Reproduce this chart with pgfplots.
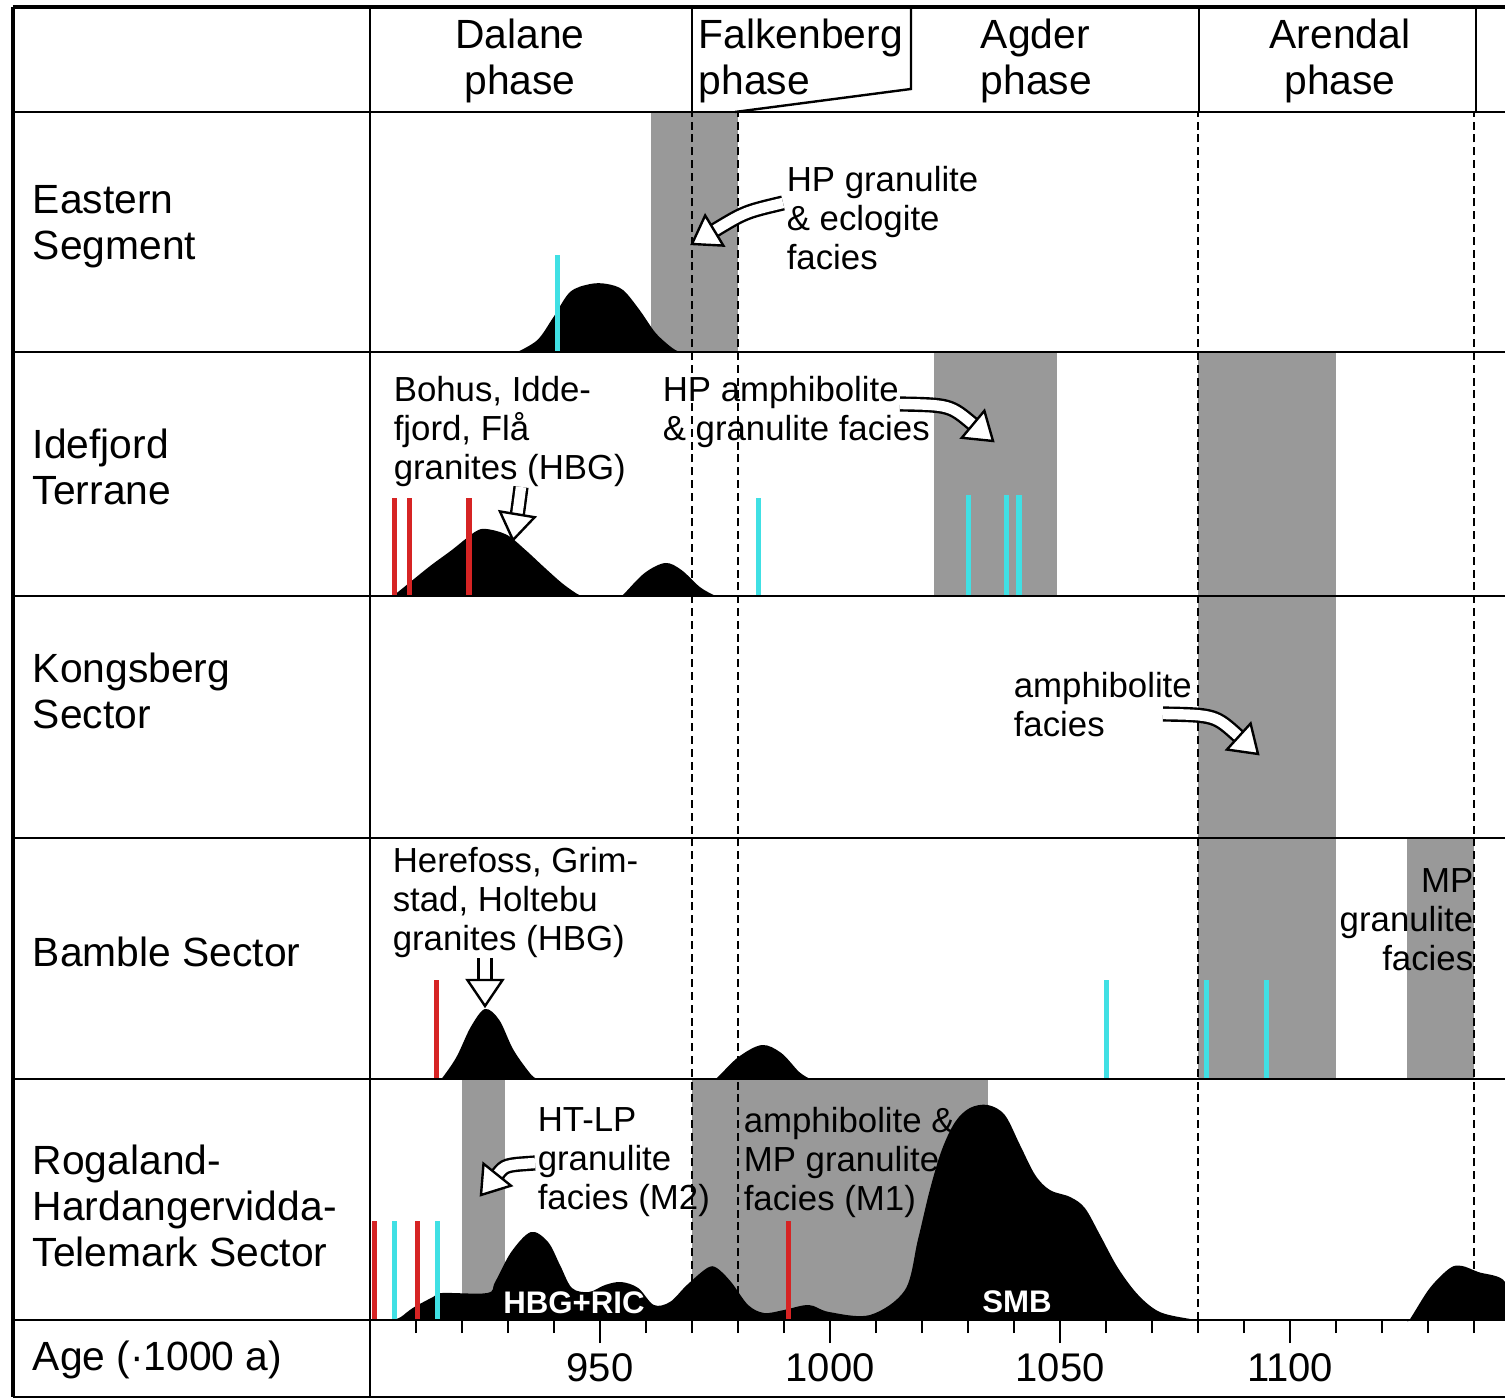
\documentclass[border=0pt]{standalone}
\usepackage{pgfplots}
\pgfplotsset{compat=1.18}
\usepackage{pgfplotstable}
\usepackage{fontspec}
\setmainfont{Liberation Sans}
\usetikzlibrary{calc}

\definecolor{band}{RGB}{153,153,153}
\definecolor{zred}{RGB}{214,36,36}
\definecolor{zcyan}{RGB}{64,224,228}

\newcommand{\lbl}{\fontsize{10.2}{11.5}\selectfont}
\newcommand{\ann}{\fontsize{8.7}{9.75}\selectfont}
\newcommand{\wlb}{\fontsize{7.8}{9}\selectfont\bfseries}

% hollow curved arrow: tail, control point, tip (pixel coordinates)
\newcommand{\harrow}[3]{%
  \coordinate (hb) at ($#3!6.5pt!#2$);
  \draw[line width=0.6pt, double=white, double distance=2.6pt] #1 .. controls #2 .. (hb);
  \draw[line width=0.6pt, fill=white, line join=miter] #3 -- ($(hb)!4.4pt!90:#3$) -- ($(hb)!4.4pt!-90:#3$) -- cycle;
}

% density curves: age, height above the row baseline
\pgfplotstableread{
a h
932.0 0
936.4 12
939.9 35
943.5 60
947.9 68
951.5 68
955.0 62
958.6 42
962.1 19
965.7 4
967.4 0
}\eastern

\pgfplotstableread{
a h
904.5 0
905.8 3
912.8 29
917.8 46
922.8 64
925.3 67
929.8 61
933.8 46
937.8 29
941.7 13
944.7 3
946.0 0
}\idefA

\pgfplotstableread{
a h
954.5 0
955.2 2
959.7 23
964.2 33
967.7 26
971.7 9
974.7 1
975.5 0
}\idefB

\pgfplotstableread{
a h
915.2 0
915.7 1
918.8 22
921.9 52
925.0 70
928.1 59
931.2 29
935.1 4
936.7 0
}\bambA

\pgfplotstableread{
a h
974.5 0
975.4 1
980.1 22
985.2 34
989.4 26
993.3 7
995.7 0
}\bambB

\pgfplotstableread{
a h
905.0 0
906.7 3
909.3 12
913.7 23
915.7 27
925.5 27
927.2 38
930.7 68
935.0 88
938.7 78
941.3 55
943.9 32
947.6 28
951.1 35
954.6 38
958.3 32
961.7 15
965.2 18
968.9 35
973.3 52
975.4 52
978.5 38
982.2 15
985.7 7
990.0 10
995.4 15
999.8 8
1008.7 5
1016.3 30
1019.1 80
1021.7 130
1024.3 170
1027.2 198
1030.4 212
1034.3 215
1038.0 205
1041.3 175
1044.6 145
1047.8 130
1052.2 123
1055.4 112
1058.7 85
1062.6 52
1067.0 25
1071.7 8
1078.3 1
1080.4 0
}\rogA

\pgfplotstableread{
a h
1125.5 0
1126.1 1
1130.4 32
1134.8 52
1137.4 54
1140.9 48
1146.739 38
1146.739 0
}\rogB

\begin{document}
\begin{tikzpicture}
\begin{axis}[
  width=283.75pt, height=302pt, scale only axis,
  xmin=900, xmax=1146.739, ymin=79, ymax=1287,
  clip=false,
  axis x line*=bottom, axis y line=none, ytick=\empty,
  x axis line style={line width=0.7pt, -},
  xtick={950,1000,1050,1100},
  minor xtick={910,920,930,940,960,970,980,990,1010,1020,1030,1040,1060,1070,1080,1090,1110,1120,1130,1140},
  tick align=outside,
  major tick length=5.75pt, minor tick length=3.25pt,
  tick style={black, line width=0.5pt},
  xticklabel style={font=\fontsize{10}{12}\selectfont, yshift=1pt},
  /pgf/number format/assume math mode=true,
  /pgf/number format/1000 sep={},
]
% metamorphic bands
\addplot[fill=band, draw=none] coordinates {(961,1047) (980,1047) (980,1287) (961,1287)};
\addplot[fill=band, draw=none] coordinates {(1022.6,803) (1049.3,803) (1049.3,1047) (1022.6,1047)};
\addplot[fill=band, draw=none] coordinates {(1080,320) (1110,320) (1110,1047) (1080,1047)};
\addplot[fill=band, draw=none] coordinates {(1125.4,320) (1140,320) (1140,561) (1125.4,561)};
\addplot[fill=band, draw=none] coordinates {(920,79) (929.3,79) (929.3,320) (920,320)};
\addplot[fill=band, draw=none] coordinates {(970,79) (1034.3,79) (1034.3,320) (970,320)};
% phase boundaries
\addplot[black, line width=0.65pt, dash pattern=on 2pt off 1.2pt] coordinates {(970,79) (970,1287)};
\addplot[black, line width=0.65pt, dash pattern=on 2pt off 1.2pt] coordinates {(980,79) (980,1287)};
\addplot[black, line width=0.65pt, dash pattern=on 2pt off 1.2pt] coordinates {(1080,79) (1080,1287)};
\addplot[black, line width=0.65pt, dash pattern=on 2pt off 1.2pt] coordinates {(1140,79) (1140,1287)};
% age distributions
\addplot[fill=black, draw=none, smooth, tension=0.55] table[x=a, y expr=\thisrow{h}+1047] {\eastern};
\addplot[fill=black, draw=none, smooth, tension=0.55] table[x=a, y expr=\thisrow{h}+803] {\idefA};
\addplot[fill=black, draw=none, smooth, tension=0.55] table[x=a, y expr=\thisrow{h}+803] {\idefB};
\addplot[fill=black, draw=none, smooth, tension=0.55] table[x=a, y expr=\thisrow{h}+320] {\bambA};
\addplot[fill=black, draw=none, smooth, tension=0.55] table[x=a, y expr=\thisrow{h}+320] {\bambB};
\addplot[fill=black, draw=none, smooth, tension=0.55] table[x=a, y expr=\thisrow{h}+79] {\rogA};
\addplot[fill=black, draw=none, smooth, tension=0.55] table[x=a, y expr=\thisrow{h}+79] {\rogB};
% single ages
\addplot[zcyan, line width=1.3pt] coordinates {(940.7,1047) (940.7,1144)};
\addplot[zred, line width=1.3pt] coordinates {(905.3,803) (905.3,901)};
\addplot[zred, line width=1.3pt] coordinates {(908.6,803) (908.6,901)};
\addplot[zred, line width=1.3pt] coordinates {(921.5,803) (921.5,901)};
\addplot[zcyan, line width=1.3pt] coordinates {(984.4,803) (984.4,901)};
\addplot[zcyan, line width=1.3pt] coordinates {(1030.1,803) (1030.1,904)};
\addplot[zcyan, line width=1.3pt] coordinates {(1038.3,803) (1038.3,904)};
\addplot[zcyan, line width=1.3pt] coordinates {(1041.1,803) (1041.1,904)};
\addplot[zred, line width=1.3pt] coordinates {(914.5,320) (914.5,419)};
\addplot[zcyan, line width=1.3pt] coordinates {(1060.1,320) (1060.1,419)};
\addplot[zcyan, line width=1.3pt] coordinates {(1081.9,320) (1081.9,419)};
\addplot[zcyan, line width=1.3pt] coordinates {(1094.9,320) (1094.9,419)};
\addplot[zred, line width=1.3pt] coordinates {(900.9,79) (900.9,178)};
\addplot[zcyan, line width=1.3pt] coordinates {(905.4,79) (905.4,178)};
\addplot[zred, line width=1.3pt] coordinates {(910.4,79) (910.4,178)};
\addplot[zcyan, line width=1.3pt] coordinates {(914.6,79) (914.6,178)};
\addplot[zred, line width=1.3pt] coordinates {(990.9,79) (990.9,178)};
\coordinate (O) at (axis cs:819.565,1399);
\coordinate (E) at (axis cs:1146.739,0);
\end{axis}

\begin{scope}[shift={(O)}, x=0.25pt, y=-0.25pt]
% frame
\foreach \yy in {112,352,596,838,1079,1320} \draw[line width=0.7pt] (14,\yy) -- (1505,\yy);
\draw[line width=1.2pt] (13,7) -- (1505,7);
\draw[line width=1.2pt] (13,7) -- (13,1397);
\draw[line width=0.6pt] (13,1397) -- (1505,1397);
\draw[line width=0.6pt] (370,7) -- (370,1397);
\draw[line width=0.5pt] (1199,7) -- (1199,112);
\draw[line width=0.5pt] (1476,7) -- (1476,112);
\draw[line width=0.6pt] (692,7) -- (692,112);
\draw[line width=0.6pt] (911,7) -- (911,89) -- (735,112);
% header
\node[font=\lbl, align=center, inner sep=0pt] at (520,61) {Dalane\\phase};
\node[font=\lbl, align=left, anchor=west, inner sep=0pt] at (698,61) {Falkenberg\\phase};
\node[font=\lbl, align=left, anchor=west, inner sep=0pt] at (980,61) {Agder\\phase};
\node[font=\lbl, align=center, inner sep=0pt] at (1340,61) {Arendal\\phase};
% row labels
\node[font=\lbl, align=left, anchor=west, inner sep=0pt] at (32,227) {Eastern\\Segment};
\node[font=\lbl, align=left, anchor=west, inner sep=0pt] at (32,467) {Idefjord\\Terrane};
\node[font=\lbl, align=left, anchor=west, inner sep=0pt] at (32,691) {Kongsberg\\Sector};
\node[font=\lbl, align=left, anchor=west, inner sep=0pt] at (32,952) {Bamble Sector};
\node[font=\lbl, align=left, anchor=west, inner sep=0pt] at (32,1206) {Rogaland-\\Hardangervidda-\\Telemark Sector};
\node[font=\lbl, align=left, anchor=west, inner sep=0pt] at (32,1360) {Age (·1000 a)};
% annotations
\node[font=\ann, align=left, anchor=west, inner sep=0pt] at (786,218) {HP granulite\\\& eclogite\\facies};
\node[font=\ann, align=left, anchor=west, inner sep=0pt] at (393,432) {Bohus, Idde-\\fjord, Flå\\granites (HBG)};
\node[font=\ann, align=left, anchor=west, inner sep=0pt] at (662,412) {HP amphibolite\\\& granulite facies};
\node[font=\ann, align=left, anchor=west, inner sep=0pt] at (1013,705) {amphibolite\\facies};
\node[font=\ann, align=left, anchor=west, inner sep=0pt] at (392,903) {Herefoss, Grim-\\stad, Holtebu\\granites (HBG)};
\node[font=\ann, align=right, anchor=east, inner sep=0pt] at (1474,920) {MP\\granulite\\facies};
\node[font=\ann, align=left, anchor=west, inner sep=0pt] at (537,1162) {HT-LP\\granulite\\facies (M2)};
\node[font=\ann, align=left, anchor=west, inner sep=0pt] at (743,1162) {amphibolite \&\\MP granulite\\facies (M1)};
\node[font=\wlb, text=white, inner sep=0pt] at (574,1303) {HBG+RIC};
\node[font=\wlb, text=white, inner sep=0pt] at (1017,1302) {SMB};
% arrows
\harrow{(783,203)}{(745,212)}{(692,244)}
\harrow{(521,487)}{(518,510)}{(513,540)}
\harrow{(900,404)}{(950,405)}{(993,441)}
\harrow{(1163,714)}{(1215,715)}{(1258,754)}
\harrow{(485,958)}{(485,980)}{(485,1006)}
\harrow{(535,1163)}{(505,1165)}{(481,1195)}
\end{scope}
\pgfresetboundingbox
\path[use as bounding box] (O) rectangle (E);
\end{tikzpicture}
\end{document}
